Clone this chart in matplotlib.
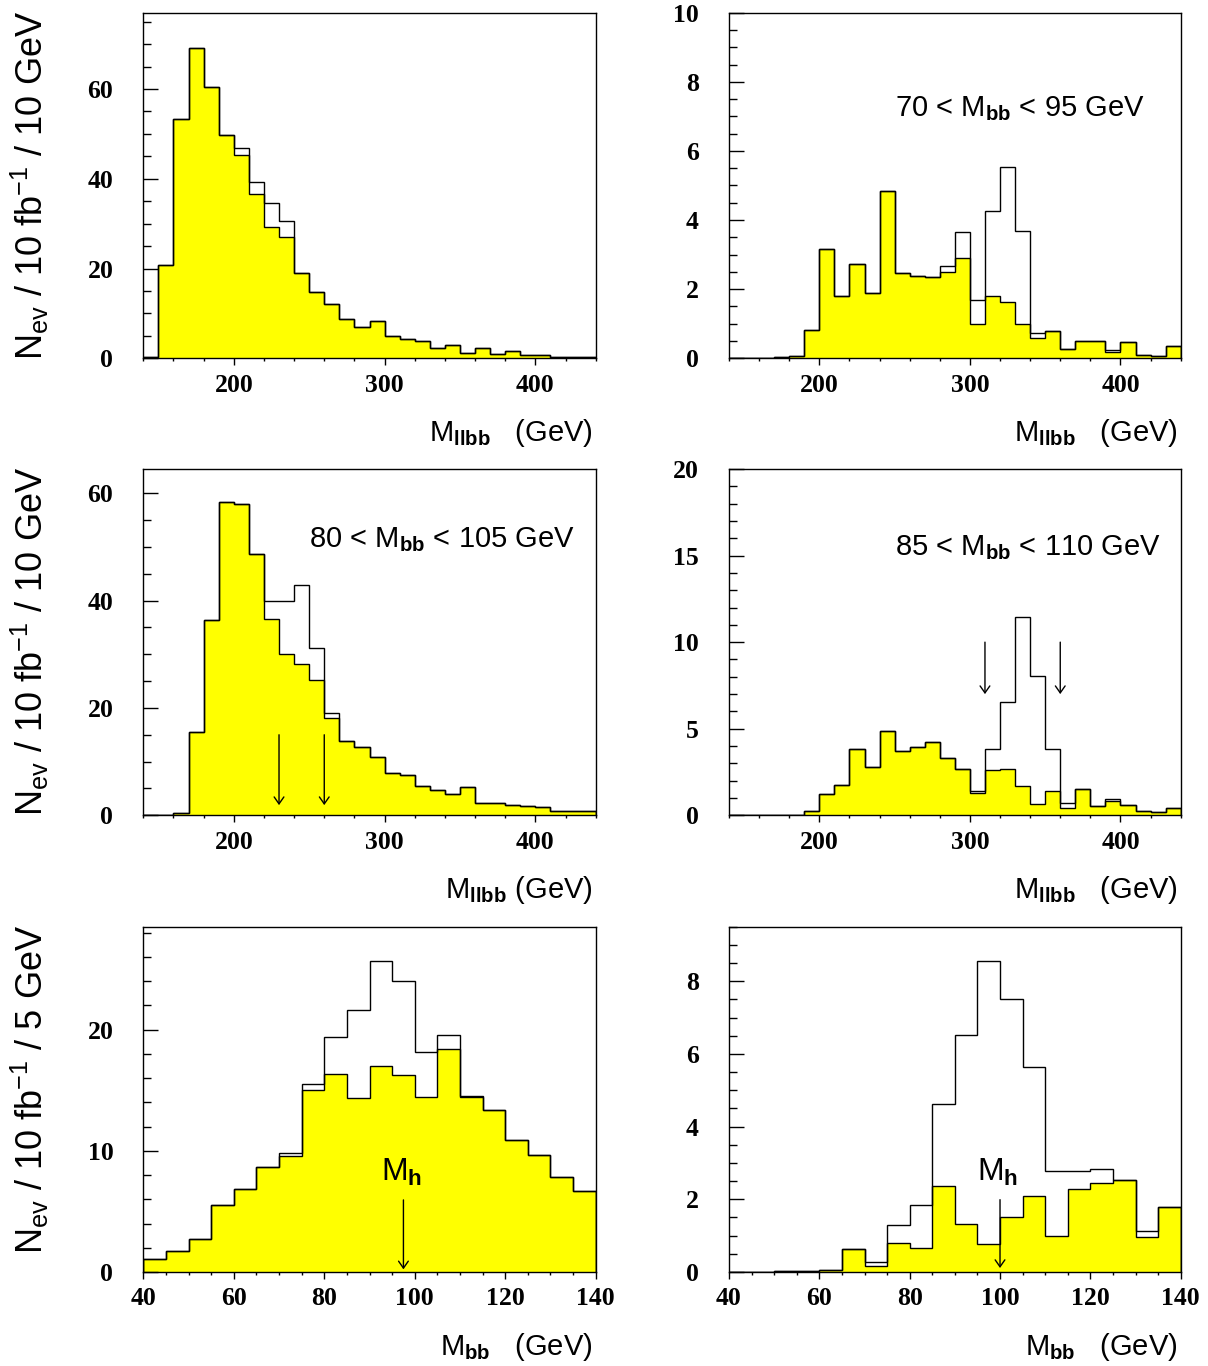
import matplotlib.pyplot as plt
import numpy as np
from matplotlib.ticker import MultipleLocator, FormatStrFormatter

plt.rcParams['font.family'] = 'Liberation Serif'
plt.rcParams['font.weight'] = 'bold'
plt.rcParams['mathtext.fontset'] = 'custom'
plt.rcParams['mathtext.rm'] = 'Liberation Sans:weight=normal'
plt.rcParams['mathtext.it'] = 'Liberation Sans:italic:weight=normal'
plt.rcParams['mathtext.bf'] = 'Liberation Sans:weight=bold'

W, H = 1208, 1366
SANS = 'Liberation Sans'

# bin edges
mllbb_edges = np.arange(140, 441, 10)
mbb_edges = np.arange(40, 141, 5)

# top left: M_llbb, no M_bb window
tl_total = [0.3, 20.7, 53.4, 69.2, 60.5, 49.7, 46.8, 39.3, 34.6, 30.6,
            18.9, 14.8, 12.0, 8.8, 7.05, 8.3, 5.0, 4.3, 3.9, 2.4,
            2.9, 1.2, 2.4, 0.9, 1.6, 0.7, 0.7, 0.4, 0.4, 0.2]
tl_bkg = [0.3, 20.7, 53.4, 69.2, 60.5, 49.7, 45.4, 36.6, 29.2, 27.1,
          18.9, 14.8, 12.0, 8.8, 7.05, 8.3, 5.0, 4.3, 3.9, 2.4,
          2.9, 1.2, 2.4, 0.9, 1.6, 0.7, 0.7, 0.4, 0.4, 0.2]

# top right: 70 < M_bb < 95
tr_total = [0, 0, 0, 0.03, 0.08, 0.82, 3.16, 1.79, 2.72, 1.89,
            4.83, 2.46, 2.39, 2.35, 2.66, 3.65, 1.69, 4.25, 5.54, 3.67,
            0.73, 0.80, 0.27, 0.51, 0.49, 0.25, 0.46, 0.10, 0.08, 0.35]
tr_bkg = [0, 0, 0, 0.03, 0.08, 0.82, 3.16, 1.79, 2.72, 1.89,
          4.83, 2.46, 2.39, 2.35, 2.49, 2.91, 0.99, 1.79, 1.63, 0.99,
          0.58, 0.80, 0.27, 0.51, 0.49, 0.18, 0.46, 0.10, 0.08, 0.35]

# middle left: 80 < M_bb < 105
ml_total = [0, 0, 0.35, 15.6, 36.3, 58.3, 57.9, 48.7, 39.9, 39.9,
            42.9, 31.2, 19.1, 13.9, 12.8, 10.9, 7.8, 7.5, 5.4, 4.7,
            4.05, 5.2, 2.3, 2.2, 2.0, 1.8, 1.6, 0.75, 0.75, 0.87]
ml_bkg = [0, 0, 0.35, 15.6, 36.3, 58.3, 57.9, 48.7, 36.6, 30.1,
          28.2, 25.2, 18.1, 13.9, 12.8, 10.9, 7.8, 7.5, 5.4, 4.7,
          4.05, 5.2, 2.3, 2.2, 2.0, 1.8, 1.6, 0.75, 0.75, 0.87]
ml_cuts = [230, 260]

# middle right: 85 < M_bb < 110
mr_total = [0, 0, 0, 0, 0, 0.23, 1.23, 1.73, 3.83, 2.77,
            4.85, 3.73, 3.92, 4.23, 3.29, 2.69, 1.42, 3.83, 6.52, 11.48,
            8.04, 3.83, 0.73, 1.52, 0.56, 0.94, 0.58, 0.23, 0.19, 0.42]
mr_bkg = [0, 0, 0, 0, 0, 0.23, 1.23, 1.73, 3.83, 2.77,
          4.85, 3.73, 3.92, 4.23, 3.29, 2.69, 1.29, 2.62, 2.65, 1.67,
          0.67, 1.40, 0.42, 1.52, 0.56, 0.81, 0.58, 0.23, 0.19, 0.42]
mr_cuts = [310, 360]

# bottom left: M_bb
bl_total = [1.05, 1.76, 2.70, 5.51, 6.86, 8.65, 9.81, 15.54, 19.37, 21.65,
            25.67, 23.99, 18.18, 19.53, 14.55, 13.33, 10.88, 9.67, 7.82, 6.72]
bl_bkg = [1.05, 1.76, 2.70, 5.51, 6.86, 8.65, 9.59, 14.99, 16.36, 14.33,
          17.02, 16.23, 14.44, 18.40, 14.44, 13.33, 10.88, 9.67, 7.82, 6.72]
bl_mh = 97.5

# bottom right: M_bb
br_total = [0, 0, 0.03, 0.03, 0.05, 0.62, 0.27, 1.29, 1.83, 4.61,
            6.53, 8.57, 7.51, 5.65, 2.79, 2.79, 2.83, 2.53, 1.12, 1.80]
br_bkg = [0, 0, 0.03, 0.03, 0.05, 0.62, 0.17, 0.80, 0.67, 2.36,
          1.32, 0.77, 1.51, 2.10, 0.99, 2.27, 2.46, 2.53, 0.97, 1.80]
br_mh = 100

fig = plt.figure(figsize=(W / 100, H / 100), dpi=100)

cols = [(143.3, 595.7), (729, 1180.7)]
rows = [(12.7, 358.3), (469, 815.3), (926.7, 1272)]


def make_axes(col, row):
    l, r = cols[col]
    t, b = rows[row]
    return fig.add_axes([l / W, 1 - b / H, (r - l) / W, (b - t) / H])


def draw_panel(ax, edges, total, bkg, ymax, ymaj, ymin, xmaj, xmin):
    ax.stairs(bkg, edges, fill=True, facecolor='yellow', edgecolor='black', lw=1.0)
    ax.stairs(total, edges, color='black', lw=1.0)
    ax.set_xlim(edges[0], edges[-1])
    ax.set_ylim(0, ymax)
    ax.xaxis.set_major_locator(MultipleLocator(xmaj))
    ax.xaxis.set_minor_locator(MultipleLocator(xmin))
    ax.yaxis.set_major_locator(MultipleLocator(ymaj))
    ax.yaxis.set_minor_locator(MultipleLocator(ymin))
    ax.xaxis.set_major_formatter(FormatStrFormatter('%d'))
    ax.yaxis.set_major_formatter(FormatStrFormatter('%d'))
    ax.tick_params(axis='y', which='major', direction='in', length=10.8, width=1,
                   pad=21.6, labelsize=18.5)
    ax.tick_params(axis='y', which='minor', direction='in', length=5.8, width=1)
    ax.tick_params(axis='x', which='major', direction='out', length=5, width=1,
                   pad=6, labelsize=18.5)
    ax.tick_params(axis='x', which='minor', direction='out', length=2.5, width=1)
    for s in ax.spines.values():
        s.set_linewidth(1.0)


def arrow(ax, x, y0, y1):
    ax.annotate('', xy=(x, y1), xytext=(x, y0),
                arrowprops=dict(arrowstyle='->,head_length=0.5,head_width=0.35',
                                lw=1.0, color='black', mutation_scale=10,
                                shrinkA=0, shrinkB=0))


def xtitle(col, row, s):
    r = cols[col][1] - 3
    y = rows[row][1] + 83
    fig.text(r / W, 1 - y / H, s, ha='right', va='baseline', fontsize=21,
             family=SANS, weight='normal')


def ytitle(row, s):
    y = rows[row][0] - 2
    fig.text(43.3 / W, 1 - y / H, s, rotation=90, rotation_mode='anchor',
             ha='right', va='baseline', fontsize=26, family=SANS, weight='normal')


def label(ax, x, y, s, size=21, ha='left'):
    ax.text(x, y, s, ha=ha, va='baseline', fontsize=size, family=SANS,
            weight='normal')


mllbb = r'M$_{\mathbf{llbb}}$   (GeV)'
mbb = r'M$_{\mathbf{bb}}$   (GeV)'
nev10 = r'N$_{\rm ev}$ / 10 fb$^{-1}$ / 10 GeV'
nev5 = r'N$_{\rm ev}$ / 10 fb$^{-1}$ / 5 GeV'

ax = make_axes(0, 0)
draw_panel(ax, mllbb_edges, tl_total, tl_bkg, 77, 20, 5, 100, 20)
xtitle(0, 0, mllbb)
ytitle(0, nev10)

ax = make_axes(1, 0)
draw_panel(ax, mllbb_edges, tr_total, tr_bkg, 10, 2, 0.5, 100, 20)
label(ax, 250, 7.0, r'70 < M$_{\mathbf{bb}}$ < 95 GeV')
xtitle(1, 0, mllbb)

ax = make_axes(0, 1)
draw_panel(ax, mllbb_edges, ml_total, ml_bkg, 64.5, 20, 5, 100, 20)
label(ax, 250, 50, r'80 < M$_{\mathbf{bb}}$ < 105 GeV')
for c in ml_cuts:
    arrow(ax, c, 15, 1.9)
xtitle(0, 1, r'M$_{\mathbf{llbb}}$ (GeV)')
ytitle(1, nev10)

ax = make_axes(1, 1)
draw_panel(ax, mllbb_edges, mr_total, mr_bkg, 20, 5, 1, 100, 20)
label(ax, 250, 15, r'85 < M$_{\mathbf{bb}}$ < 110 GeV')
for c in mr_cuts:
    arrow(ax, c, 10, 7)
xtitle(1, 1, mllbb)

ax = make_axes(0, 2)
draw_panel(ax, mbb_edges, bl_total, bl_bkg, 28.5, 10, 2, 20, 5)
arrow(ax, bl_mh, 5.95, 0.22)
label(ax, bl_mh - 0.4, 7.55, r'M$_{\mathbf{h}}$', size=23, ha='center')
xtitle(0, 2, mbb)
ytitle(2, nev5)

ax = make_axes(1, 2)
draw_panel(ax, mbb_edges, br_total, br_bkg, 9.5, 2, 0.5, 20, 5)
arrow(ax, br_mh, 1.99, 0.11)
label(ax, br_mh - 0.6, 2.5, r'M$_{\mathbf{h}}$', size=23, ha='center')
xtitle(1, 2, mbb)

fig.savefig('out.png', dpi=100)
